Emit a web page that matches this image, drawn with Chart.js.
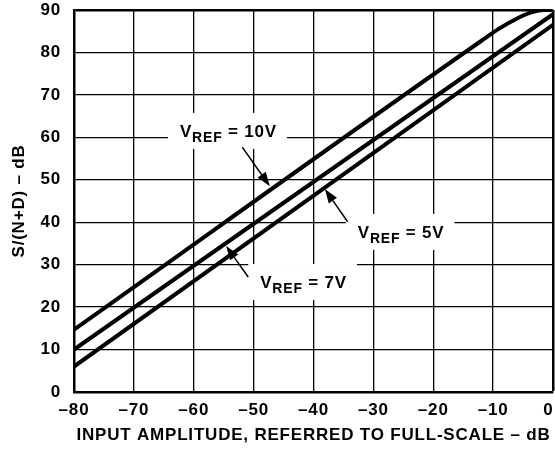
<!DOCTYPE html>
<html>
<head>
<meta charset="utf-8">
<script src="https://cdn.jsdelivr.net/npm/chart.js@4/dist/chart.umd.min.js"></script>
<style>
  html, body { margin: 0; padding: 0; background: #fff; }
  #wrap { width: 555px; height: 449px; }
</style>
</head>
<body>
<div id="wrap"><canvas id="chart"></canvas></div>
<script>
"use strict";

// values (input dB -> S/(N+D) dB)
const ref10x = [-80, -12, -9, -6, -3.5, -1.5, 0];
const ref10y = [14.7, 82.7, 85.6, 88.0, 89.5, 90, 90];
const ref7x = [-80, 0];
const ref7y = [10, 89];
const ref5x = [-80, 0];
const ref5y = [6, 86.5];

// label text: [main, subscript, rest], anchor (left, baseline) in data units
const labelParts = [["V", "REF", " = 10V"], ["V", "REF", " = 5V"], ["V", "REF", " = 7V"]];
const labelX = [-62.3, -32.6, -48.9];
const labelY = [60.1, 36.3, 24.5];
// arrows: tail -> tip, data units
const arrowFromX = [-51.9, -34.3, -50.9];
const arrowFromY = [57.7, 40.1, 27.1];
const arrowToX = [-47.3, -38.1, -54.6];
const arrowToY = [48.5, 47.8, 34.4];

const FONT = "'Liberation Sans', Arial, sans-serif";
const SPACING = "0.8px";

function pts(xs, ys) {
  return xs.map((x, i) => ({ x: x, y: ys[i] }));
}

function dash(v) {
  if (v === 0) return "0\u2002"; // keeps the last label inside the canvas
  return v < 0 ? "\u2013" + Math.abs(v) : String(v);
}

// the original lettering is set a little wide
const spacingPlugin = {
  id: "spacing",
  beforeUpdate(chart) { chart.ctx.letterSpacing = SPACING; },
  beforeDraw(chart) { chart.ctx.letterSpacing = SPACING; },
};

const labelPlugin = {
  id: "vrefLabels",
  afterDatasetsDraw(chart) {
    const ctx = chart.ctx;
    const xs = chart.scales.x;
    const ys = chart.scales.y;
    ctx.save();
    ctx.letterSpacing = SPACING;
    for (let i = 0; i < labelParts.length; i++) {
      let px = xs.getPixelForValue(labelX[i]);
      let py = ys.getPixelForValue(labelY[i]);
      ctx.font = "bold 17px " + FONT;
      let w1 = ctx.measureText(labelParts[i][0]).width;
      let w3 = ctx.measureText(labelParts[i][2]).width;
      ctx.font = "bold 14px " + FONT;
      let w2 = ctx.measureText(labelParts[i][1]).width;
      let total = w1 + w2 + w3;
      // white box breaks the grid behind the text
      ctx.fillStyle = "#fff";
      ctx.fillRect(px - 12, py - 24, total + 22, 36);
      ctx.fillStyle = "#000";
      ctx.textBaseline = "alphabetic";
      ctx.textAlign = "left";
      ctx.font = "bold 17px " + FONT;
      ctx.fillText(labelParts[i][0], px, py);
      ctx.font = "bold 14px " + FONT;
      ctx.fillText(labelParts[i][1], px + w1, py + 5);
      ctx.font = "bold 17px " + FONT;
      ctx.fillText(labelParts[i][2], px + w1 + w2, py);

      // arrow
      let x0 = xs.getPixelForValue(arrowFromX[i]);
      let y0 = ys.getPixelForValue(arrowFromY[i]);
      let x1 = xs.getPixelForValue(arrowToX[i]);
      let y1 = ys.getPixelForValue(arrowToY[i]);
      let ang = Math.atan2(y1 - y0, x1 - x0);
      let hl = 14, hw = 5;
      let bx = x1 - hl * Math.cos(ang);
      let by = y1 - hl * Math.sin(ang);
      ctx.strokeStyle = "#000";
      ctx.lineWidth = 1.5;
      ctx.beginPath();
      ctx.moveTo(x0, y0);
      ctx.lineTo(bx, by);
      ctx.stroke();
      ctx.beginPath();
      ctx.moveTo(x1, y1);
      ctx.lineTo(bx + hw * Math.sin(ang), by - hw * Math.cos(ang));
      ctx.lineTo(bx - hw * Math.sin(ang), by + hw * Math.cos(ang));
      ctx.closePath();
      ctx.fill();
    }
    ctx.restore();
  }
};

function lineSet(label, data, tension) {
  return {
    label: label,
    data: data,
    showLine: true,
    borderColor: "#000",
    backgroundColor: "#000",
    borderWidth: 4,
    pointRadius: 0,
    tension: tension,
    cubicInterpolationMode: tension ? "monotone" : "default",
  };
}

let chart = new Chart(document.getElementById("chart"), {
  type: "scatter",
  data: {
    datasets: [
      lineSet("VREF = 10V", pts(ref10x, ref10y), 0.4),
      lineSet("VREF = 7V", pts(ref7x, ref7y), 0),
      lineSet("VREF = 5V", pts(ref5x, ref5y), 0),
    ],
  },
  options: {
    responsive: true,
    maintainAspectRatio: false,
    animation: false,
    devicePixelRatio: 1,
    layout: { padding: 0 },
    plugins: { legend: { display: false }, tooltip: { enabled: false } },
    scales: {
      x: {
        type: "linear",
        min: -80,
        max: 0,
        afterFit: (s) => { s.height = 57; s.paddingRight = 2; s.paddingLeft = 0; },
        ticks: {
          stepSize: 10,
          padding: 8,
          color: "#000",
          font: { family: FONT, size: 17, weight: "bold" },
          callback: (v) => dash(v),
        },
        grid: {
          color: "#000",
          lineWidth: (c) => (c.tick && c.tick.value === 0 ? 2.5 : 1.3),
          drawTicks: false,
        },
        border: { color: "#000", width: 2.5 },
        title: {
          display: true,
          text: "INPUT AMPLITUDE, REFERRED TO FULL-SCALE \u2013 dB",
          color: "#000",
          padding: { top: 4, bottom: 3 },
          font: { family: FONT, size: 17, weight: "bold" },
        },
      },
      y: {
        type: "linear",
        min: 0,
        max: 90,
        afterFit: (s) => { s.width = 74; s.paddingTop = 10; s.paddingBottom = 0; },
        ticks: {
          stepSize: 10,
          padding: 13,
          color: "#000",
          font: { family: FONT, size: 17, weight: "bold" },
        },
        grid: {
          color: "#000",
          lineWidth: (c) => (c.tick && c.tick.value === 90 ? 2.5 : 1.3),
          drawTicks: false,
        },
        border: { color: "#000", width: 2.5 },
        title: {
          display: true,
          text: "S/(N+D) \u2013 dB",
          color: "#000",
          padding: { top: 9, bottom: 4 },
          font: { family: FONT, size: 17, weight: "bold" },
        },
      },
    },
  },
  plugins: [spacingPlugin, labelPlugin],
});
</script>
</body>
</html>
